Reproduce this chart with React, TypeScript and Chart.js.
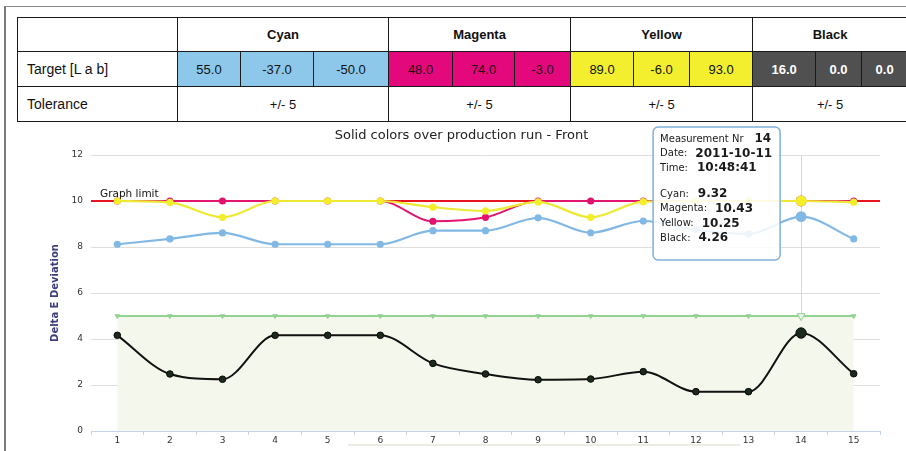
import React, { useEffect, useRef } from 'react';
import { Chart, registerables } from 'chart.js';
Chart.register(...registerables);

// ---- data ----
const categories = ['1', '2', '3', '4', '5', '6', '7', '8', '9', '10', '11', '12', '13', '14', '15'];
const cyanValues = [8.12, 8.35, 8.61, 8.12, 8.12, 8.12, 8.71, 8.71, 9.27, 8.62, 9.13, 8.75, 8.57, 9.32, 8.35];
const magentaValues = [10, 10, 10, 10, 10, 10, 9.12, 9.29, 10, 10, 10, 10, 10, 10.43, 10];
const yellowValues = [10, 9.94, 9.29, 10, 10, 10, 9.73, 9.57, 9.96, 9.29, 9.97, 10, 10, 10.25, 9.95];
const blackValues = [4.16, 2.48, 2.25, 4.16, 4.16, 4.16, 2.94, 2.48, 2.23, 2.26, 2.58, 1.71, 1.71, 4.26, 2.49];
const toleranceValues = [5, 5, 5, 5, 5, 5, 5, 5, 5, 5, 5, 5, 5, 5, 5];
const graphLimit = 10;
const yMin = 0;
const yMax = 12;
const yStep = 2;

const chartTitle = 'Solid colors over production run - Front';
const yAxisTitle = 'Delta E Deviation';
const limitLabel = 'Graph limit';

const hoverIndex = 13;
const measurementDate = '2011-10-11';
const measurementTime = '10:48:41';

const inkNames = ['Cyan', 'Magenta', 'Yellow', 'Black'];
const cyanTarget = ['55.0', '-37.0', '-50.0'];
const magentaTarget = ['48.0', '74.0', '-3.0'];
const yellowTarget = ['89.0', '-6.0', '93.0'];
const blackTarget = ['16.0', '0.0', '0.0'];
const toleranceLabels = ['+/- 5', '+/- 5', '+/- 5', '+/- 5'];

// ---- styles ----
const inkStyles = [
  { bg: '#8dc8eb', color: '#111', weight: 400 },
  { bg: '#e3087c', color: '#2a0816', weight: 400 },
  { bg: '#f3ef2e', color: '#111', weight: 400 },
  { bg: '#505050', color: '#fff', weight: 700 },
];
const colWidths = [160, 63, 73, 75, 64, 62, 56, 63, 56, 63, 63, 46, 46];

const cap = (arr: number[]) => arr.map((v) => Math.min(v, graphLimit));
const pointSizes = (normal: number, hover: number) => categories.map((_, i) => (i === hoverIndex ? hover : normal));

const FONT = '"DejaVu Sans", Verdana, sans-serif';

const overlayPlugin = {
  id: 'overlay',
  beforeDatasetsDraw(chart: any) {
    const { ctx, chartArea, scales } = chart;
    const x = scales.x;
    const y = scales.y;
    ctx.save();
    // crosshair
    const hx = Math.round(x.getPixelForValue(hoverIndex)) + 0.5;
    ctx.strokeStyle = '#cfdccf';
    ctx.lineWidth = 1;
    ctx.beginPath();
    ctx.moveTo(hx, chartArea.top);
    ctx.lineTo(hx, chartArea.bottom);
    ctx.stroke();
    // graph limit
    const ly = y.getPixelForValue(graphLimit);
    ctx.strokeStyle = '#e8141f';
    ctx.lineWidth = 2;
    ctx.beginPath();
    ctx.moveTo(chartArea.left, ly);
    ctx.lineTo(chartArea.right, ly);
    ctx.stroke();
    ctx.fillStyle = '#111';
    ctx.font = '10.5px ' + FONT;
    ctx.textAlign = 'left';
    ctx.textBaseline = 'alphabetic';
    ctx.fillText(limitLabel, chartArea.left + 9, ly - 4);
    ctx.restore();
  },
  afterDraw(chart: any) {
    const { ctx, chartArea, scales } = chart;
    ctx.save();
    // title
    ctx.fillStyle = '#222';
    ctx.font = '13px ' + FONT;
    ctx.textAlign = 'center';
    ctx.textBaseline = 'middle';
    ctx.fillText(chartTitle, chart.width / 2, chartArea.top - 19);

    // tooltip
    const px = scales.x.getPixelForValue(hoverIndex);
    const w = 127;
    const h = 133;
    const bx = px - 21 - w;
    const by = chartArea.top - 28;
    ctx.fillStyle = 'rgba(255,255,255,0.86)';
    ctx.strokeStyle = '#7fb0dc';
    ctx.lineWidth = 1.5;
    ctx.beginPath();
    (ctx as any).roundRect(bx, by, w, h, 5);
    ctx.fill();
    ctx.stroke();

    const lines: [string, string, number][] = [
      ['Measurement Nr', categories[hoverIndex], 11],
      ['Date:', measurementDate, 8],
      ['Time:', measurementTime, 9],
      ['', '', 0],
      [inkNames[0] + ':', cyanValues[hoverIndex].toFixed(2), 9],
      [inkNames[1] + ':', magentaValues[hoverIndex].toFixed(2), 8],
      [inkNames[2] + ':', yellowValues[hoverIndex].toFixed(2), 8],
      [inkNames[3] + ':', blackValues[hoverIndex].toFixed(2), 8],
    ];
    ctx.textAlign = 'left';
    ctx.textBaseline = 'middle';
    ctx.fillStyle = '#1a1a1a';
    let ly = by + 12;
    lines.forEach(([label, value, gap], i) => {
      if (label) {
        ctx.font = '10px ' + FONT;
        ctx.fillText(label, bx + 7, ly);
        const lw = ctx.measureText(label).width;
        ctx.font = 'bold 12px ' + FONT;
        ctx.fillText(value, bx + 7 + lw + gap, ly);
      }
      ly += i === 3 ? 11.5 : 14.6;
    });
    ctx.restore();
  },
};

function SolidChart() {
  const ref = useRef<HTMLCanvasElement>(null);
  useEffect(() => {
    if (!ref.current) return;
    const chart = new Chart(ref.current, {
      type: 'line',
      data: {
        labels: categories,
        datasets: [
          {
            label: 'Black',
            data: cap(blackValues),
            borderColor: '#111',
            borderWidth: 2,
            backgroundColor: '#1c2a1c',
            pointBackgroundColor: '#1c2a1c',
            pointBorderColor: '#0a0a0a',
            pointBorderWidth: 1,
            pointRadius: pointSizes(3.3, 5.2),
            cubicInterpolationMode: 'monotone',
            order: 0,
          },
          {
            label: 'Yellow',
            data: cap(yellowValues),
            borderColor: '#ede934',
            borderWidth: 2.2,
            pointBackgroundColor: '#f2ee2a',
            pointBorderWidth: 0,
            pointRadius: pointSizes(3.6, 5.4),
            cubicInterpolationMode: 'monotone',
            order: 1,
          },
          {
            label: 'Magenta',
            data: cap(magentaValues),
            borderColor: '#e2156f',
            borderWidth: 2,
            pointBackgroundColor: '#e2136e',
            pointBorderWidth: 0,
            pointRadius: pointSizes(3.6, 5.4),
            cubicInterpolationMode: 'monotone',
            order: 2,
          },
          {
            label: 'Cyan',
            data: cap(cyanValues),
            borderColor: '#82b8e4',
            borderWidth: 2.2,
            pointBackgroundColor: '#82b8e4',
            pointBorderWidth: 0,
            pointRadius: pointSizes(3.6, 5.4),
            cubicInterpolationMode: 'monotone',
            order: 3,
          },
          {
            label: 'Tolerance',
            data: toleranceValues,
            borderColor: '#93d293',
            borderWidth: 2,
            backgroundColor: '#f3f7ec',
            fill: 'origin',
            pointStyle: 'triangle',
            rotation: 180,
            pointBackgroundColor: categories.map((_, i) => (i === hoverIndex ? '#e8f6e8' : '#93d293')),
            pointBorderColor: '#93d293',
            pointBorderWidth: 1,
            pointRadius: pointSizes(2.6, 4.6),
            order: 4,
          },
        ],
      },
      options: {
        responsive: false,
        animation: false,
        events: [],
        layout: { padding: { top: 33, right: 26, bottom: 0, left: 0 } },
        plugins: {
          legend: { display: false },
          tooltip: { enabled: false },
          title: { display: false },
        },
        scales: {
          x: {
            type: 'category',
            offset: true,
            grid: {
              offset: true,
              drawOnChartArea: false,
              drawTicks: true,
              tickLength: 4,
              color: '#c5d3e6',
            },
            border: { display: true, color: '#c5d3e6', width: 1 },
            ticks: { color: '#333', font: { family: FONT, size: 9 }, padding: 0, maxRotation: 0, autoSkip: false },
            afterFit: (s: any) => {
              s.height = 20;
            },
          },
          y: {
            min: yMin,
            max: yMax,
            ticks: { stepSize: yStep, color: '#333', font: { family: FONT, size: 9 }, padding: 8 },
            grid: { color: '#dedede', drawTicks: false },
            border: { display: false },
            title: {
              display: true,
              text: yAxisTitle,
              color: '#3d3d7a',
              font: { family: FONT, size: 10, weight: 'bold' },
              padding: { top: 32, bottom: 0 },
            },
            afterFit: (s: any) => {
              s.width = 74;
            },
          },
        },
      },
      plugins: [overlayPlugin],
    } as any);
    return () => chart.destroy();
  }, []);
  return (
    <canvas
      ref={ref}
      width={889}
      height={329}
      style={{ position: 'absolute', left: 17, top: 122, width: 889, height: 329 }}
    />
  );
}

function TargetTable() {
  const targets = [cyanTarget, magentaTarget, yellowTarget, blackTarget];
  const border = '1px solid #1a1a1a';
  const cell: React.CSSProperties = { border, padding: 0, textAlign: 'center', overflow: 'hidden', whiteSpace: 'nowrap' };
  const rowLabel: React.CSSProperties = { ...cell, textAlign: 'left', paddingLeft: 9, fontSize: 14 };
  return (
    <table
      style={{
        position: 'absolute',
        left: 17,
        top: 17,
        borderCollapse: 'collapse',
        tableLayout: 'fixed',
        width: colWidths.reduce((a, b) => a + b, 0),
        fontFamily: '"Liberation Sans", Arial, sans-serif',
        fontSize: 13,
        color: '#111',
      }}
    >
      <colgroup>
        {colWidths.map((w, i) => (
          <col key={i} style={{ width: w }} />
        ))}
      </colgroup>
      <tbody>
        <tr style={{ height: 34 }}>
          <td style={cell}></td>
          {inkNames.map((n) => (
            <td key={n} colSpan={3} style={{ ...cell, fontWeight: 700 }}>
              {n}
            </td>
          ))}
        </tr>
        <tr style={{ height: 35 }}>
          <td style={rowLabel}>Target [L a b]</td>
          {targets.map((vals, k) =>
            vals.map((v, j) => (
              <td
                key={k + '-' + j}
                style={{
                  ...cell,
                  background: inkStyles[k].bg,
                  color: inkStyles[k].color,
                  fontWeight: inkStyles[k].weight,
                }}
              >
                {v}
              </td>
            ))
          )}
        </tr>
        <tr style={{ height: 35 }}>
          <td style={rowLabel}>Tolerance</td>
          {toleranceLabels.map((t, k) => (
            <td key={k} colSpan={3} style={cell}>
              {t}
            </td>
          ))}
        </tr>
      </tbody>
    </table>
  );
}

export default function App() {
  return (
    <div
      style={{
        position: 'fixed',
        left: 0,
        top: 0,
        width: 906,
        height: 451,
        overflow: 'hidden',
        background: '#fff',
      }}
    >
      <div
        style={{
          position: 'absolute',
          left: 4,
          top: 6,
          right: -10,
          bottom: -10,
          borderLeft: '2px solid #7a7a7a',
          borderTop: '1px solid #8a8a8a',
        }}
      />
      <TargetTable />
      <div style={{ position: 'absolute', left: 348, top: 444, width: 392, height: 2, background: '#ecece4' }} />
      <SolidChart />
    </div>
  );
}
